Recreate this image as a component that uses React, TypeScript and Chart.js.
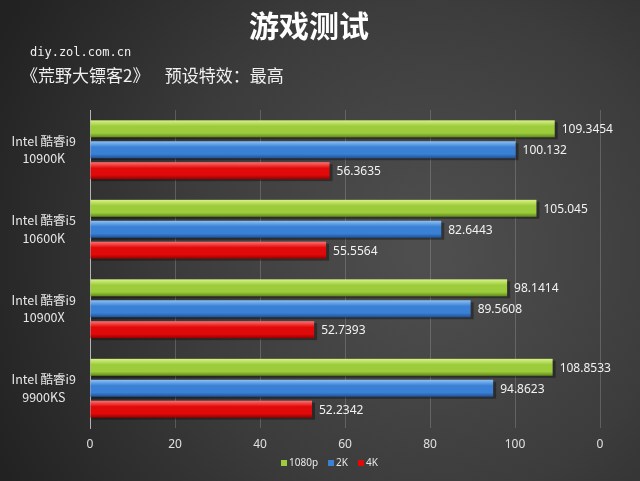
import React, { useEffect, useRef } from "react";
import { Chart, registerables } from "chart.js";

Chart.register(...registerables);

const categories = [
  ["Intel 酷睿i9", "10900K"],
  ["Intel 酷睿i5", "10600K"],
  ["Intel 酷睿i9", "10900X"],
  ["Intel 酷睿i9", "9900KS"],
];
const series1080p = [109.3454, 105.045, 98.1414, 108.8533];
const series2K = [100.132, 82.6443, 89.5608, 94.8623];
const series4K = [56.3635, 55.5564, 52.7393, 52.2342];
const valueLabels1080p = ["109.3454", "105.045", "98.1414", "108.8533"];
const valueLabels2K = ["100.132", "82.6443", "89.5608", "94.8623"];
const valueLabels4K = ["56.3635", "55.5564", "52.7393", "52.2342"];
const xTickLabels: Record<number, string> = { 0: "0", 20: "20", 40: "40", 60: "60", 80: "80", 100: "100", 120: "0" };
const seriesNames = ["1080p", "2K", "4K"];
const title = "游戏测试";
const sourceText = "diy.zol.com.cn";
const subtitle = "《荒野大镖客2》    预设特效：最高";

const palettes = [
  { top: "#d8f285", mid: "#9ccb3c", bot: "#5f8a1a", solid: "#9ccb3c" },
  { top: "#8cc2f8", mid: "#3a80d4", bot: "#1f5299", solid: "#3a80d4" },
  { top: "#ff7070", mid: "#e00a0a", bot: "#990000", solid: "#e00a0a" },
];

const bgPlugin = {
  id: "bg",
  beforeDraw(chart: any) {
    const { ctx, width, height } = chart;
    ctx.save();
    const g = ctx.createRadialGradient(430, 250, 20, 430, 250, 480);
    g.addColorStop(0, "#4e4e4e");
    g.addColorStop(0.5, "#3c3c3c");
    g.addColorStop(1, "#222222");
    ctx.fillStyle = g;
    ctx.fillRect(0, 0, width, height);
    ctx.restore();
  },
};

const textPlugin = {
  id: "texts",
  afterDraw(chart: any) {
    const { ctx } = chart;
    ctx.save();
    ctx.fillStyle = "#ffffff";
    ctx.textBaseline = "middle";
    ctx.textAlign = "center";
    ctx.font = 'bold 30px "Noto Sans CJK SC"';
    ctx.fillText(title, 309, 26);
    ctx.textAlign = "left";
    ctx.font = '12px "DejaVu Sans Mono"';
    ctx.fillStyle = "#f0f0f0";
    ctx.fillText(sourceText, 30, 53);
    ctx.font = '17px "Noto Sans CJK SC"';
    ctx.fillText(subtitle, 21, 76);

    // legend
    const items = seriesNames.map((n, i) => ({ n, c: palettes[i].solid }));
    ctx.font = '10px "Noto Sans"';
    let x = 281;
    const y = 463;
    items.forEach((it) => {
      ctx.fillStyle = it.c;
      ctx.fillRect(x, y - 3, 6, 6);
      ctx.fillStyle = "#e8e8e8";
      ctx.fillText(it.n, x + 8, y);
      x += 8 + ctx.measureText(it.n).width + 10;
    });
    ctx.restore();
  },
};

const barPlugin = {
  id: "bars3d",
  afterDatasetsDraw(chart: any) {
    const { ctx } = chart;
    const labelSets = [valueLabels1080p, valueLabels2K, valueLabels4K];
    ctx.save();
    chart.data.datasets.forEach((ds: any, di: number) => {
      const meta = chart.getDatasetMeta(di);
      const p = palettes[di];
      meta.data.forEach((el: any, i: number) => {
        const { x, y, base, height } = el.getProps(["x", "y", "base", "height"], true);
        const top = y - height / 2;
        ctx.fillStyle = "rgba(0,0,0,0.35)";
        ctx.fillRect(base + 1, top + 2, x - base + 2, height);
        const g = ctx.createLinearGradient(0, top, 0, top + height);
        g.addColorStop(0, p.top);
        g.addColorStop(0.35, p.mid);
        g.addColorStop(0.75, p.mid);
        g.addColorStop(1, p.bot);
        ctx.fillStyle = g;
        ctx.fillRect(base, top, x - base, height);
        ctx.fillStyle = "#f2f2f2";
        ctx.font = '12px "Noto Sans"';
        ctx.textAlign = "left";
        ctx.textBaseline = "middle";
        ctx.fillText(labelSets[di][i], x + 7, y + 1);
      });
    });
    ctx.restore();
  },
};

export default function App() {
  const ref = useRef<HTMLCanvasElement>(null);
  useEffect(() => {
    if (!ref.current) return;
    const chart = new Chart(ref.current, {
      type: "bar",
      data: {
        labels: categories,
        datasets: [
          { label: seriesNames[0], data: series1080p, backgroundColor: "rgba(0,0,0,0)" },
          { label: seriesNames[1], data: series2K, backgroundColor: "rgba(0,0,0,0)" },
          { label: seriesNames[2], data: series4K, backgroundColor: "rgba(0,0,0,0)" },
        ],
      },
      options: {
        indexAxis: "y",
        responsive: false,
        animation: false,
        categoryPercentage: 0.79,
        barPercentage: 0.81,
        layout: { padding: { left: 0, right: 40, top: 110, bottom: 0 } },
        plugins: {
          legend: { display: false },
          tooltip: { enabled: false },
          title: { display: false },
        },
        scales: {
          x: {
            min: 0,
            max: 120,
            ticks: {
              stepSize: 20,
              color: "#e0e0e0",
              font: { family: "Noto Sans", size: 12 },
              padding: 9,
              callback: (v: any) => xTickLabels[v as number] ?? String(v),
            },
            grid: { color: "rgba(200,200,200,0.25)", lineWidth: 1, drawTicks: false },
            border: { display: false },
            afterFit: (s: any) => {
              s.height = 53;
            },
          },
          y: {
            ticks: {
              color: "#e6e6e6",
              font: { family: "Noto Sans CJK SC", size: 12.5, lineHeight: 1.4 },
              crossAlign: "center",
              padding: 6,
            },
            grid: { display: false },
            border: { display: true, color: "rgba(220,220,220,0.7)" },
            afterFit: (s: any) => {
              s.width = 90;
            },
          },
        },
      },
      plugins: [bgPlugin, barPlugin, textPlugin],
    });
    return () => chart.destroy();
  }, []);
  return (
    <div style={{ position: "fixed", left: 0, top: 0, width: 640, height: 481 }}>
      <canvas ref={ref} width={640} height={481} style={{ display: "block" }} />
    </div>
  );
}
